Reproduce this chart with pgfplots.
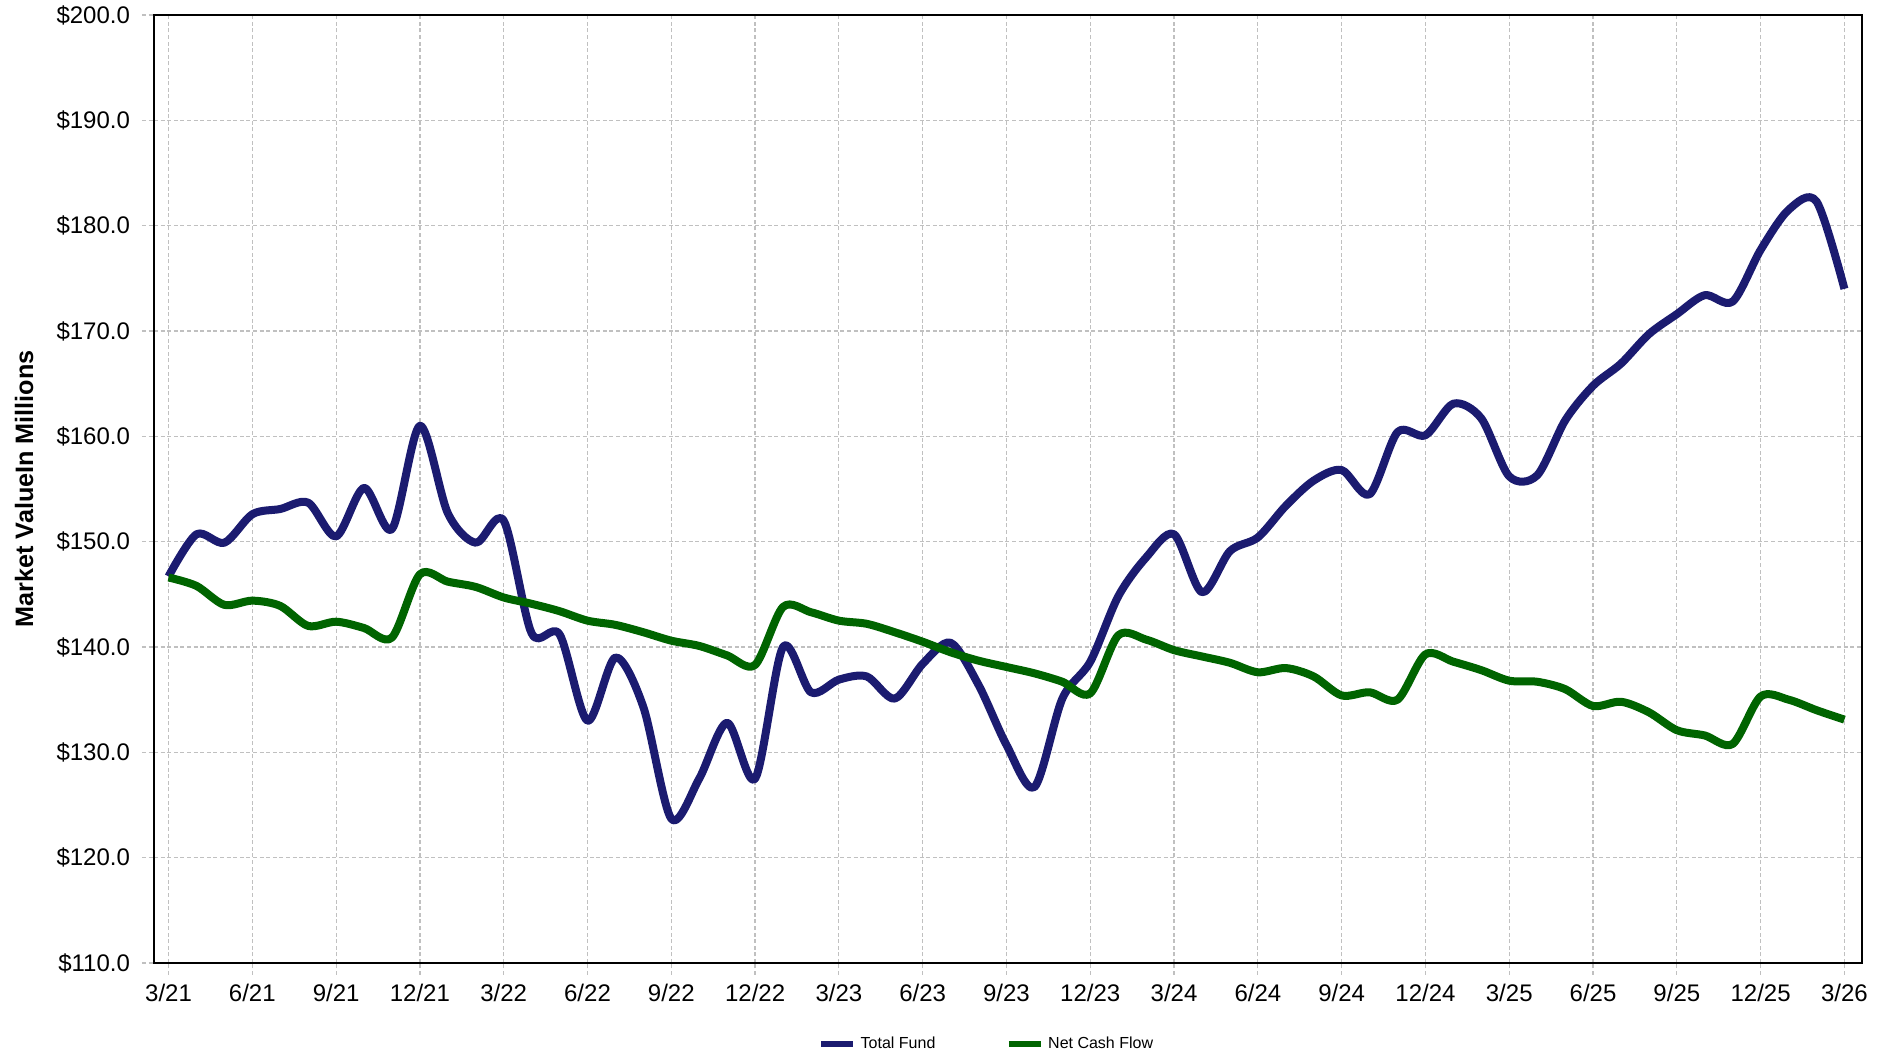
\documentclass[border=0pt]{standalone}
\usepackage{fontspec}
\setmainfont{Liberation Sans}
\usepackage{pgfplots}
\usepackage{pgfplotstable}
\pgfplotsset{compat=1.18}

\definecolor{fundblue}{RGB}{27,27,112}
\definecolor{cashgreen}{RGB}{0,100,0}
\definecolor{gridgray}{RGB}{192,192,192}

% month index 0 = 3/21 ... 60 = 3/26
\pgfplotstableread{
m val
0 146.7
1 150.7
2 149.9
3 152.6
4 153.1
5 153.7
6 150.5
7 155.1
8 151.2
9 161.0
10 152.7
11 149.9
12 152.0
13 141.3
14 141.2
15 133.0
16 139.0
17 134.3
18 123.7
19 127.5
20 132.8
21 127.5
22 140.0
23 135.7
24 136.9
25 137.2
26 135.1
27 138.4
28 140.4
29 136.4
30 130.7
31 126.7
32 135.1
33 138.6
34 144.8
35 148.5
36 150.7
37 145.2
38 149.1
39 150.4
40 153.4
41 155.8
42 156.8
43 154.5
44 160.4
45 160.1
46 163.1
47 161.7
48 156.2
49 156.3
50 161.5
51 164.8
52 166.9
53 169.7
54 171.6
55 173.4
56 172.8
57 177.7
58 181.5
59 182.3
60 174.0
}\totalfund

\pgfplotstableread{
m val
0 146.6
1 145.8
2 144.0
3 144.4
4 143.9
5 142.0
6 142.4
7 141.8
8 140.9
9 146.9
10 146.2
11 145.7
12 144.7
13 144.1
14 143.4
15 142.5
16 142.1
17 141.4
18 140.6
19 140.1
20 139.2
21 138.3
22 143.8
23 143.3
24 142.5
25 142.2
26 141.4
27 140.5
28 139.5
29 138.7
30 138.1
31 137.5
32 136.7
33 135.6
34 141.1
35 140.7
36 139.7
37 139.1
38 138.5
39 137.6
40 138.0
41 137.2
42 135.4
43 135.7
44 135.0
45 139.3
46 138.6
47 137.8
48 136.8
49 136.7
50 136.0
51 134.4
52 134.8
53 133.8
54 132.1
55 131.6
56 130.8
57 135.3
58 135.0
59 134.0
60 133.1
}\netcash

\begin{document}
\begin{tikzpicture}
\begin{axis}[
    scale only axis,
    width=854pt, height=474pt,
    xmin=-0.52, xmax=60.63,
    ymin=110, ymax=200,
    xtick={0,3,...,60},
    xticklabels={3/21,6/21,9/21,12/21,3/22,6/22,9/22,12/22,3/23,6/23,9/23,12/23,3/24,6/24,9/24,12/24,3/25,6/25,9/25,12/25,3/26},
    ytick={110,120,...,200},
    yticklabels={\$110.0,\$120.0,\$130.0,\$140.0,\$150.0,\$160.0,\$170.0,\$180.0,\$190.0,\$200.0},
    xtick pos=lower, ytick pos=left,
    tick align=outside,
    major tick length=6pt,
    major tick style={draw=gridgray, line width=0.6pt, dash pattern=on 2pt off 1.3pt},
    grid=major,
    major grid style={draw=gridgray, line width=0.6pt, dash pattern=on 2pt off 1.3pt},
    axis line style={line width=1pt, black},
    ticklabel style={font=\fontsize{12}{14}\selectfont},
    xticklabel style={yshift=-1pt},
    yticklabel style={xshift=-2.5pt},
    ylabel={Market ValueIn Millions},
    ylabel style={font=\bfseries\fontsize{12.6}{15}\selectfont, at={(axis description cs:-0.0761,0.5)}, anchor=center},
    legend columns=-1,
    legend style={draw=none, fill=none, at={(0.488,-0.0854)}, anchor=center,
        font=\fontsize{8}{10}\selectfont,
        /tikz/every even column/.append style={column sep=33pt}},
    legend cell align=left,
    legend image code/.code={\draw[#1, line width=3.4pt, line cap=butt] (0pt,0pt) -- (16pt,0pt);},
]
\addplot[fundblue, line width=4pt, smooth, line join=round] table[x=m, y=val] {\totalfund};
\addlegendentry{Total Fund}
\addplot[cashgreen, line width=4pt, smooth, line join=round] table[x=m, y=val] {\netcash};
\addlegendentry{Net Cash Flow}
\coordinate (sw) at (rel axis cs:0,0);
\coordinate (ne) at (rel axis cs:1,1);
\end{axis}
\pgfresetboundingbox
\path ([shift={(-77pt,-46pt)}]sw) rectangle ([shift={(14.5pt,7.5pt)}]ne);
\end{tikzpicture}
\end{document}
